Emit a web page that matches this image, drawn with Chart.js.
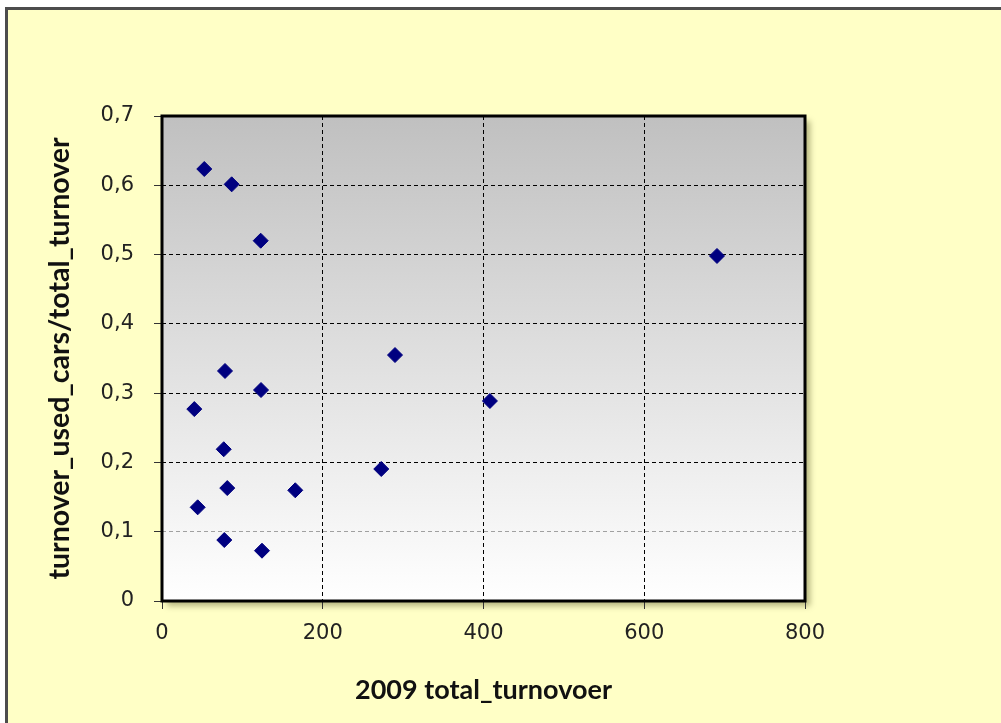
<!DOCTYPE html>
<html>
<head>
<meta charset="utf-8">
<script src="https://cdn.jsdelivr.net/npm/chart.js@4/dist/chart.umd.min.js"></script>
<style>
  body { margin: 0; background: #fff; }
  canvas { display: block; }
</style>
</head>
<body>
<canvas id="myChart" width="1001" height="723"></canvas>
<script>
const xValues = [52.6, 86.7, 122.8, 690.5, 289.9, 78.4, 123.2, 40.2, 408, 76.8, 272.8, 81.2, 165.8, 44.4, 77.5, 124.4];
const yValues = [0.6235, 0.6014, 0.52, 0.498, 0.355, 0.332, 0.3045, 0.277, 0.2887, 0.219, 0.1905, 0.163, 0.1598, 0.1352, 0.088, 0.0726];
const xTickLabels = ["0", "200", "400", "600", "800"];
const yTickLabels = ["0", "0,1", "0,2", "0,3", "0,4", "0,5", "0,6", "0,7"];

const points = xValues.map((x, i) => ({ x: x, y: yValues[i] }));

// frame, plot background with shadow, plot border
const plotDeco = {
  id: "plotDeco",
  beforeDraw(chart) {
    const ctx = chart.ctx;
    const a = chart.chartArea;
    ctx.save();
    ctx.fillStyle = "#ffffc6";
    ctx.fillRect(6, 8, chart.width, chart.height);
    ctx.strokeStyle = "#4d4d4d";
    ctx.lineWidth = 3;
    ctx.beginPath();
    ctx.moveTo(6.5, chart.height);
    ctx.lineTo(6.5, 8.5);
    ctx.lineTo(chart.width, 8.5);
    ctx.stroke();

    let grad = ctx.createLinearGradient(0, a.top, 0, a.bottom);
    grad.addColorStop(0, "#c0c0c0");
    grad.addColorStop(1, "#ffffff");
    ctx.shadowColor = "rgba(90,90,40,0.45)";
    ctx.shadowBlur = 6;
    ctx.shadowOffsetX = 5;
    ctx.shadowOffsetY = 5;
    ctx.fillStyle = grad;
    ctx.fillRect(a.left, a.top, a.right - a.left, a.bottom - a.top);
    ctx.restore();
  },
  beforeDatasetsDraw(chart) {
    const ctx = chart.ctx;
    const a = chart.chartArea;
    ctx.save();
    ctx.strokeStyle = "#000";
    ctx.lineWidth = 3;
    ctx.strokeRect(a.left, a.top, a.right - a.left, a.bottom - a.top);
    ctx.restore();
  },
};

new Chart("myChart", {
  type: "scatter",
  data: {
    datasets: [
      {
        data: points,
        pointStyle: "rectRot",
        pointRadius: 7.5,
        pointHoverRadius: 7.5,
        backgroundColor: "#000080",
        borderColor: "#000080",
        borderWidth: 1,
      },
    ],
  },
  options: {
    responsive: false,
    animation: false,
    layout: { padding: { left: 0, top: 116, right: 196, bottom: 0 } },
    plugins: { legend: { display: false }, tooltip: { enabled: false } },
    scales: {
      x: {
        type: "linear",
        min: 0,
        max: 800,
        afterFit(scale) { scale.height = 122; },
        ticks: {
          stepSize: 200,
          padding: 12,
          color: "#222",
          font: { family: "DejaVu Sans", size: 21 },
          callback: (v, i) => xTickLabels[i],
        },
        grid: {
          color: "#000",
          lineWidth: 1,
          tickLength: 8,
          tickColor: "#333",
          tickBorderDash: [],
        },
        border: { display: false, dash: [4, 3] },
        title: {
          display: true,
          text: "2009 total_turnovoer",
          color: "#111",
          font: { family: "Lato", size: 27, weight: "bold" },
          padding: { top: 0, bottom: 17 },
        },
      },
      y: {
        min: 0,
        max: 0.7,
        afterFit(scale) { scale.width = 162; },
        ticks: {
          stepSize: 0.1,
          padding: 20,
          color: "#222",
          font: { family: "DejaVu Sans", size: 21 },
          callback: (v, i) => yTickLabels[i],
        },
        grid: {
          color: (c) => (c.tick && Math.abs(c.tick.value - 0.1) < 1e-6 ? "#a0a0a0" : "#000"),
          lineWidth: 1,
          tickLength: 8,
          tickColor: "#333",
          tickBorderDash: [],
        },
        border: { display: false, dash: [4, 3] },
        title: {
          display: true,
          text: "turnover_used_cars/total_turnover",
          color: "#111",
          font: { family: "Lato", size: 28.5, weight: "bold" },
          padding: { top: 43, bottom: 0 },
        },
      },
    },
  },
  plugins: [plotDeco],
});
</script>
</body>
</html>
